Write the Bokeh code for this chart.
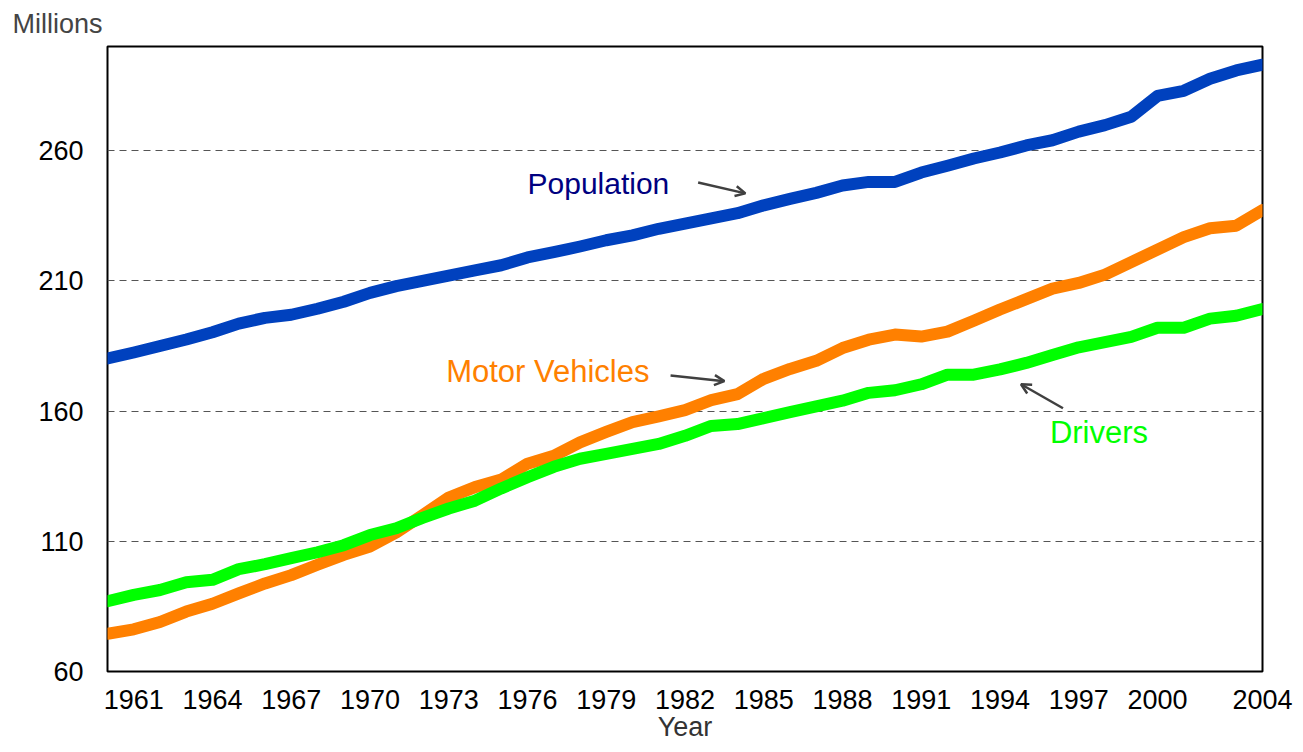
from bokeh.plotting import figure
from bokeh.models import FixedTicker, Range1d, Arrow, OpenHead
from bokeh.core.properties import value
from bokeh.embed import file_html
from bokeh.resources import INLINE

years = list(range(1960, 2005))

population = [180.2, 182.5, 185.0, 187.5, 190.3, 193.6, 195.8, 197.0, 199.3, 202.0,
              205.4, 208.0, 210.0, 212.0, 214.0, 216.0, 219.0, 221.0, 223.2, 225.6,
              227.5, 230.0, 232.0, 234.0, 236.0, 239.0, 241.5, 243.8, 246.6, 248.0,
              248.0, 251.6, 254.2, 257.0, 259.3, 262.0, 264.0, 267.3, 269.8, 273.0,
              281.0, 283.0, 287.6, 290.8, 293.0]

motor_vehicles = [74.5, 76.2, 79.0, 83.0, 86.0, 90.0, 93.8, 97.0, 101.0, 104.8,
                  108.0, 113.4, 120.0, 126.8, 130.8, 133.7, 139.8, 142.8, 148.0, 152.0,
                  155.8, 158.0, 160.4, 164.2, 166.5, 172.4, 176.2, 179.3, 184.2, 187.4,
                  189.4, 188.6, 190.5, 194.7, 199.0, 203.0, 207.0, 209.2, 212.4, 217.2,
                  222.0, 226.8, 230.2, 231.2, 237.2]

drivers = [87.0, 89.4, 91.3, 94.3, 95.2, 99.3, 101.2, 103.5, 105.8, 108.5,
           112.4, 115.0, 119.0, 122.6, 125.6, 130.3, 134.6, 138.6, 141.7, 143.6,
           145.5, 147.4, 150.5, 154.3, 155.0, 157.3, 159.6, 161.8, 164.0, 167.0,
           168.0, 170.3, 174.0, 174.0, 176.0, 178.5, 181.5, 184.5, 186.5, 188.5,
           192.0, 192.0, 195.5, 196.6, 199.2]

x_tick_years = [1961, 1964, 1967, 1970, 1973, 1976, 1979, 1982, 1985, 1988,
                1991, 1994, 1997, 2000, 2004]
y_ticks = [60, 110, 160, 210, 260]

FONT = "Liberation Sans"

p = figure(width=1295, height=744, output_backend="svg", toolbar_location=None,
           x_range=Range1d(1960, 2004), y_range=Range1d(60, 300),
           min_border_left=107, min_border_right=33, min_border_top=46, min_border_bottom=69,
           title="Millions")
p.background_fill_color = "white"
p.outline_line_color = "black"
p.outline_line_width = 2

# "Millions" title at top-left
p.title.text_font = FONT
p.title.text_font_size = "27px"
p.title.text_font_style = "normal"
p.title.text_color = "#444444"
p.title.align = "left"
p.title.vertical_align = "top"
p.title.offset = -95
p.title.standoff = 12

# grid
p.xgrid.grid_line_color = None
p.ygrid.ticker = FixedTicker(ticks=[110, 160, 210, 260])
p.ygrid.grid_line_color = "#555555"
p.ygrid.grid_line_dash = "7 5"
p.ygrid.grid_line_width = 1.2

# axes
p.xaxis.ticker = FixedTicker(ticks=x_tick_years)
p.yaxis.ticker = FixedTicker(ticks=y_ticks)
for ax in (p.xaxis[0], p.yaxis[0]):
    ax.axis_line_color = None
    ax.major_tick_line_color = None
    ax.minor_tick_line_color = None
    ax.major_label_text_font = FONT
    ax.major_label_text_font_size = "27px"
    ax.major_label_text_color = "black"
p.xaxis.major_label_standoff = 12
p.yaxis.major_label_standoff = 18
p.xaxis.axis_label = "Year"
p.xaxis.axis_label_text_font = FONT
p.xaxis.axis_label_text_font_size = "27px"
p.xaxis.axis_label_text_font_style = "normal"
p.xaxis.axis_label_text_color = "#333333"
p.xaxis.axis_label_standoff = 0

# lines
p.line(years, population, line_color="#0041BE", line_width=12, line_cap="round", line_join="round")
p.line(years, motor_vehicles, line_color="#FF8000", line_width=12, line_cap="round", line_join="round")
p.line(years, drivers, line_color="#00FF00", line_width=12, line_cap="round", line_join="round")

# series labels
p.text(x=[1976.0], y=[247.4], text=["Population"], text_color="#000080",
       text_font=value(FONT), text_font_size="30px", text_baseline="middle", text_align="left")
p.text(x=[1972.9], y=[175.3], text=["Motor Vehicles"], text_color="#FF8000",
       text_font=value(FONT), text_font_size="31px", text_baseline="middle", text_align="left")
p.text(x=[1995.9], y=[151.6], text=["Drivers"], text_color="#00FF00",
       text_font=value(FONT), text_font_size="31px", text_baseline="middle", text_align="left")

# arrows
for (x0, y0, x1, y1) in [(1982.5, 247.8, 1984.3, 243.6),
                         (1981.45, 173.7, 1983.5, 171.5),
                         (1996.4, 161.1, 1994.8, 170.3)]:
    p.add_layout(Arrow(x_start=x0, y_start=y0, x_end=x1, y_end=y1,
                       line_color="#404040", line_width=2.5,
                       end=OpenHead(size=10, line_color="#404040", line_width=2.5)))

open("out.html", "w").write(file_html(p, INLINE))
